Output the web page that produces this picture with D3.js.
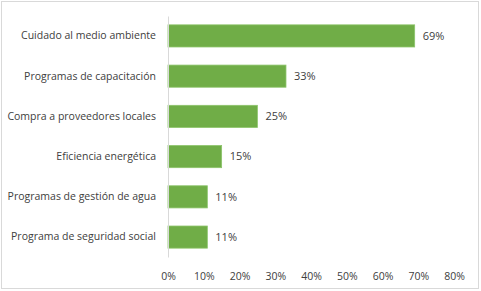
<!DOCTYPE html>
<html>
<head>
<meta charset="utf-8">
<script src="https://cdn.jsdelivr.net/npm/d3@7"></script>
<style>
body { margin:0; background:#fff; }
svg text { font-family: "Open Sans", sans-serif; fill:#404040; }
</style>
</head>
<body>
<svg id="myGraph" width="481" height="291"></svg>
<script>
var categories = ["Cuidado al medio ambiente","Programas de capacitación","Compra a proveedores locales","Eficiencia energética","Programas de gestión de agua","Programa de seguridad social"];
var values = [69,33,25,15,11,11];	// porcentaje
var tickValues = [0,10,20,30,40,50,60,70,80];

var svg = d3.select("#myGraph");
var plotLeft = 168, plotRight = 454, plotTop = 16, plotBottom = 257;

// marco del gráfico
svg.append("rect")
	.attr("x",1.5).attr("y",1.5)
	.attr("width",477).attr("height",287)
	.attr("fill","#fff").attr("stroke","#d9d9d9");

var xScale = d3.scaleLinear().domain([0,80]).range([plotLeft,plotRight]);
var yScale = d3.scaleBand().domain(categories).range([plotTop,plotBottom]).paddingInner(0.45).paddingOuter(0.22);

// barras
svg.selectAll(".bar").data(values).enter().append("rect")
	.attr("class","bar")
	.attr("x",xScale(0))
	.attr("y",function(d,i){ return yScale(categories[i]); })
	.attr("width",function(d){ return xScale(d)-xScale(0); })
	.attr("height",yScale.bandwidth())
	.attr("fill","#70ad47")
	.attr("stroke","#8cc46a").attr("stroke-width",0.8);

// etiquetas de valor
svg.selectAll(".val").data(values).enter().append("text")
	.attr("x",function(d){ return xScale(d)+8; })
	.attr("y",function(d,i){ return yScale(categories[i])+yScale.bandwidth()/2; })
	.attr("dy","0.35em")
	.attr("font-size","11px")
	.text(function(d){ return d+"%"; });

// eje Y
var yAxis = d3.axisLeft(yScale).tickSize(0).tickPadding(12);
var gy = svg.append("g").attr("transform","translate("+plotLeft+",0)").call(yAxis);
gy.select(".domain").attr("stroke","#d9d9d9");
gy.selectAll("text").attr("font-size","10.5px").style("font-family","'Open Sans', sans-serif").attr("fill","#404040");

// eje X (solo etiquetas)
var xAxis = d3.axisBottom(xScale).tickValues(tickValues).tickSize(0).tickPadding(0)
	.tickFormat(function(d){ return d+"%"; });
var gx = svg.append("g").attr("transform","translate(0,273)").call(xAxis);
gx.select(".domain").remove();
gx.selectAll("text").attr("font-size","10.5px").style("font-family","'Open Sans', sans-serif").attr("fill","#404040");
</script>
</body>
</html>
